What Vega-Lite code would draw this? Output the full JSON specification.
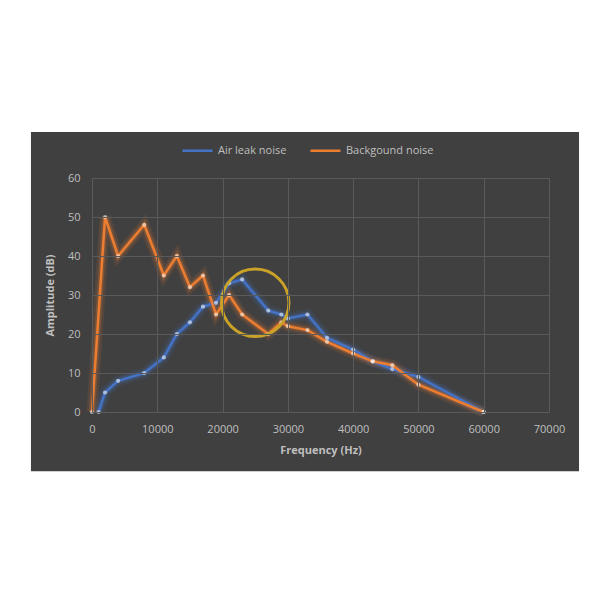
{
  "$schema": "https://vega.github.io/schema/vega-lite/v6.json",
  "width": 457,
  "height": 234,
  "autosize": "none",
  "padding": {"left": 92, "top": 178, "right": 51, "bottom": 188},
  "background": "white",
  "config": {
    "font": "Open Sans",
    "view": {"stroke": null}
  },
  "data": {
    "values": [
      {"series": "Air leak noise", "freq": 1000, "amp": 0},
      {"series": "Air leak noise", "freq": 2000, "amp": 5},
      {"series": "Air leak noise", "freq": 4000, "amp": 8},
      {"series": "Air leak noise", "freq": 8000, "amp": 10},
      {"series": "Air leak noise", "freq": 11000, "amp": 14},
      {"series": "Air leak noise", "freq": 13000, "amp": 20},
      {"series": "Air leak noise", "freq": 15000, "amp": 23},
      {"series": "Air leak noise", "freq": 17000, "amp": 27},
      {"series": "Air leak noise", "freq": 19000, "amp": 28},
      {"series": "Air leak noise", "freq": 21000, "amp": 33},
      {"series": "Air leak noise", "freq": 23000, "amp": 34},
      {"series": "Air leak noise", "freq": 27000, "amp": 26},
      {"series": "Air leak noise", "freq": 29000, "amp": 25},
      {"series": "Air leak noise", "freq": 30000, "amp": 24},
      {"series": "Air leak noise", "freq": 33000, "amp": 25},
      {"series": "Air leak noise", "freq": 36000, "amp": 19},
      {"series": "Air leak noise", "freq": 40000, "amp": 16},
      {"series": "Air leak noise", "freq": 43000, "amp": 13},
      {"series": "Air leak noise", "freq": 46000, "amp": 11},
      {"series": "Air leak noise", "freq": 50000, "amp": 9},
      {"series": "Air leak noise", "freq": 60000, "amp": 0},
      {"series": "Backgound noise", "freq": 0, "amp": 0},
      {"series": "Backgound noise", "freq": 2000, "amp": 50},
      {"series": "Backgound noise", "freq": 4000, "amp": 40},
      {"series": "Backgound noise", "freq": 8000, "amp": 48},
      {"series": "Backgound noise", "freq": 11000, "amp": 35},
      {"series": "Backgound noise", "freq": 13000, "amp": 40},
      {"series": "Backgound noise", "freq": 15000, "amp": 32},
      {"series": "Backgound noise", "freq": 17000, "amp": 35},
      {"series": "Backgound noise", "freq": 19000, "amp": 25},
      {"series": "Backgound noise", "freq": 21000, "amp": 30},
      {"series": "Backgound noise", "freq": 23000, "amp": 25},
      {"series": "Backgound noise", "freq": 27000, "amp": 20},
      {"series": "Backgound noise", "freq": 29000, "amp": 23},
      {"series": "Backgound noise", "freq": 30000, "amp": 22},
      {"series": "Backgound noise", "freq": 33000, "amp": 21},
      {"series": "Backgound noise", "freq": 36000, "amp": 18},
      {"series": "Backgound noise", "freq": 40000, "amp": 15},
      {"series": "Backgound noise", "freq": 43000, "amp": 13},
      {"series": "Backgound noise", "freq": 46000, "amp": 12},
      {"series": "Backgound noise", "freq": 50000, "amp": 7},
      {"series": "Backgound noise", "freq": 60000, "amp": 0}
    ]
  },
  "layer": [
    {
      "data": {"values": [{"panel": "chart area"}]},
      "mark": {"type": "rect", "clip": false},
      "encoding": {
        "x": {"datum": -9350, "type": "quantitative",
          "scale": {"domain": [0, 70000], "nice": false, "zero": false},
          "axis": {
            "title": "Frequency (Hz)",
            "values": [0, 10000, 20000, 30000, 40000, 50000, 60000, 70000],
            "format": "d", "zindex": 1,
            "domain": false, "ticks": false, "labelFlush": false,
            "grid": true, "gridColor": "#5a5a5a", "gridWidth": 1,
            "labelColor": "#bfbfbf", "labelFontSize": 11, "labelPadding": 11,
            "titleColor": "#bfbfbf", "titleFontSize": 11, "titleFontWeight": "bold", "titlePadding": 10
          }
        },
        "x2": {"datum": 74600},
        "y": {"datum": 71.8, "type": "quantitative",
          "scale": {"domain": [0, 60], "nice": false},
          "axis": {
            "title": "Amplitude (dB)",
            "values": [0, 10, 20, 30, 40, 50, 60], "zindex": 1,
            "domain": false, "ticks": false, "labelFlush": false,
            "grid": true, "gridColor": "#5a5a5a", "gridWidth": 1,
            "labelColor": "#bfbfbf", "labelFontSize": 11, "labelPadding": 12,
            "titleColor": "#bfbfbf", "titleFontSize": 11, "titleFontWeight": "bold", "titlePadding": 12
          }
        },
        "y2": {"datum": -15.2},
        "color": {"value": "#404040"}
      }
    },
    {
      "encoding": {
        "x": {
          "field": "freq", "type": "quantitative",
          "scale": {"domain": [0, 70000], "nice": false, "zero": false},
          "axis": {
            "title": "Frequency (Hz)",
            "values": [0, 10000, 20000, 30000, 40000, 50000, 60000, 70000],
            "format": "d", "zindex": 1,
            "domain": false, "ticks": false, "labelFlush": false,
            "grid": true, "gridColor": "#5a5a5a", "gridWidth": 1,
            "labelColor": "#bfbfbf", "labelFontSize": 11, "labelPadding": 11,
            "titleColor": "#bfbfbf", "titleFontSize": 11, "titleFontWeight": "bold", "titlePadding": 10
          }
        },
        "y": {
          "field": "amp", "type": "quantitative",
          "scale": {"domain": [0, 60], "nice": false},
          "axis": {
            "title": "Amplitude (dB)",
            "values": [0, 10, 20, 30, 40, 50, 60], "zindex": 1,
            "domain": false, "ticks": false, "labelFlush": false,
            "grid": true, "gridColor": "#5a5a5a", "gridWidth": 1,
            "labelColor": "#bfbfbf", "labelFontSize": 11, "labelPadding": 12,
            "titleColor": "#bfbfbf", "titleFontSize": 11, "titleFontWeight": "bold", "titlePadding": 12
          }
        },
        "color": {"field": "series", "type": "nominal",
          "scale": {"domain": ["Air leak noise", "Backgound noise"], "range": ["#4472C4", "#ED7D31"]},
          "legend": {
            "orient": "none", "legendX": 89, "legendY": -44,
            "direction": "horizontal", "title": null,
            "symbolType": "stroke", "symbolStrokeWidth": 2.5, "symbolSize": 900, "symbolOpacity": 1,
            "labelColor": "#bfbfbf", "labelFontSize": 11, "labelFont": "Open Sans",
            "columnPadding": 18
          }
        }
      },
      "layer": [
        {"mark": {"type": "line", "strokeWidth": 11, "opacity": 0.12}},
        {"mark": {"type": "line", "strokeWidth": 6, "opacity": 0.25}},
        {"mark": {"type": "line", "strokeWidth": 2.5}},
        {"mark": {"type": "point", "filled": true, "size": 18, "fill": "white", "fillOpacity": 0.55, "strokeWidth": 0}}
      ]
    },
    {
      "data": {"values": [{"freq": 25000, "amp": 28}]},
      "mark": {"type": "point", "shape": "circle", "filled": false, "size": 4550, "stroke": "#C9A227", "strokeWidth": 3, "opacity": 1},
      "encoding": {
        "x": {"field": "freq", "type": "quantitative",
          "scale": {"domain": [0, 70000], "nice": false, "zero": false},
          "axis": {
            "title": "Frequency (Hz)",
            "values": [0, 10000, 20000, 30000, 40000, 50000, 60000, 70000],
            "format": "d", "zindex": 1,
            "domain": false, "ticks": false, "labelFlush": false,
            "grid": true, "gridColor": "#5a5a5a", "gridWidth": 1,
            "labelColor": "#bfbfbf", "labelFontSize": 11, "labelPadding": 11,
            "titleColor": "#bfbfbf", "titleFontSize": 11, "titleFontWeight": "bold", "titlePadding": 10
          }
        },
        "y": {"field": "amp", "type": "quantitative",
          "scale": {"domain": [0, 60], "nice": false},
          "axis": {
            "title": "Amplitude (dB)",
            "values": [0, 10, 20, 30, 40, 50, 60], "zindex": 1,
            "domain": false, "ticks": false, "labelFlush": false,
            "grid": true, "gridColor": "#5a5a5a", "gridWidth": 1,
            "labelColor": "#bfbfbf", "labelFontSize": 11, "labelPadding": 12,
            "titleColor": "#bfbfbf", "titleFontSize": 11, "titleFontWeight": "bold", "titlePadding": 12
          }
        }
      }
    }
  ]
}
